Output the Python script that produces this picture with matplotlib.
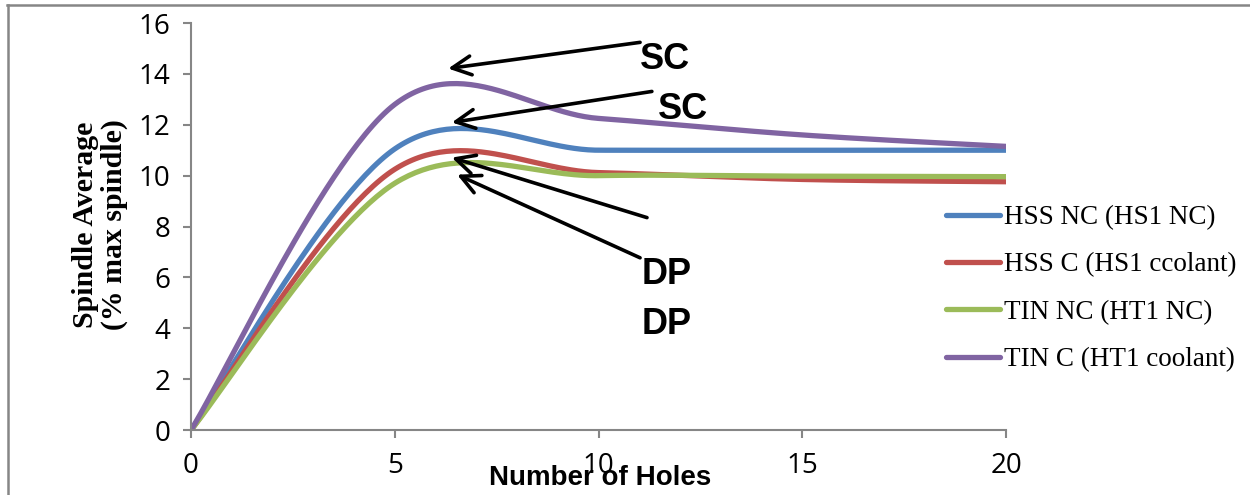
import numpy as np
import matplotlib.pyplot as plt
from matplotlib.lines import Line2D

holes = [0, 5, 10, 15, 20]
hss_nc = [0, 11.05, 11.0, 11.0, 11.0]
hss_c = [0, 10.25, 10.12, 9.85, 9.76]
tin_nc = [0, 9.7, 10.0, 9.98, 9.96]
tin_c = [0, 12.8, 12.25, 11.6, 11.15]

labels = ["HSS NC (HS1 NC)", "HSS C (HS1 ccolant)", "TIN NC (HT1 NC)", "TIN C (HT1 coolant)"]
colors = ["#4F81BD", "#C0504D", "#9BBB59", "#8064A2"]


def smooth(xs, ys, n=60):
    # Excel style smoothed line (bezier with 1/6 tangents)
    p = np.column_stack([xs, ys]).astype(float)
    ext = np.vstack([p[0], p, p[-1]])
    out = []
    t = np.linspace(0, 1, n)[:, None]
    for i in range(len(p) - 1):
        p0 = ext[i + 1]
        p3 = ext[i + 2]
        c1 = p0 + (ext[i + 2] - ext[i]) / 6
        c2 = p3 - (ext[i + 3] - ext[i + 1]) / 6
        seg = ((1 - t) ** 3) * p0 + 3 * ((1 - t) ** 2) * t * c1 + 3 * (1 - t) * t ** 2 * c2 + t ** 3 * p3
        out.append(seg)
    out = np.vstack(out)
    return out[:, 0], out[:, 1]


fig = plt.figure(figsize=(12.5, 4.95), dpi=100)
ax = fig.add_axes([0.1528, 0.1313, 0.652, 0.8222])

for ys, lab, col in zip([hss_nc, hss_c, tin_nc, tin_c], labels, colors):
    sx, sy = smooth(holes, ys)
    ax.plot(sx, sy, color=col, lw=3.8, label=lab, solid_capstyle="round")

ax.set_xlim(0, 20)
ax.set_ylim(0, 16)
ax.set_xticks([0, 5, 10, 15, 20])
ax.set_yticks(range(0, 17, 2))
for s in ["top", "right"]:
    ax.spines[s].set_visible(False)
for s in ["left", "bottom"]:
    ax.spines[s].set_color("#868686")
    ax.spines[s].set_linewidth(1.5)
ax.tick_params(colors="#868686", length=6, width=1.5, labelcolor="black",
               labelsize=20, labelfontfamily="Open Sans")
ax.tick_params(axis="y", pad=9)
ax.tick_params(axis="x", pad=10)

ax.set_xlabel("Number of Holes", family="Liberation Sans", fontweight="bold", fontsize=20)
ax.xaxis.set_label_coords(0.502, -0.118)
ax.xaxis.label.set_va("center")
ax.set_ylabel("Spindle Average\n(% max spindle)", family="Liberation Serif",
              fontweight="bold", fontsize=21.5, linespacing=1.1)
ax.yaxis.set_label_coords(-0.112, 0.504)
ax.yaxis.label.set_va("center")

ax.legend(loc="upper left", bbox_to_anchor=(0.748, 0.607), bbox_transform=fig.transFigure,
          frameon=False, prop={"family": "Liberation Serif", "size": 19.5},
          handlelength=2.0, handletextpad=0.15, labelspacing=0.82, borderaxespad=0)

# arrows and labels
arrows = [((11.02, 15.24), (6.31, 14.21)),
          ((11.31, 13.31), (6.40, 12.09)),
          ((11.19, 8.35), (6.40, 10.71)),
          ((11.02, 6.77), (6.53, 10.04))]
for tail, head in arrows:
    ax.annotate("", xy=head, xytext=tail, annotation_clip=False,
                arrowprops=dict(arrowstyle="->", color="black", lw=2.6,
                                mutation_scale=34, shrinkA=0, shrinkB=0))

notes = [("SC", 11.63, 14.57), ("SC", 12.07, 12.6), ("DP", 11.68, 6.1), ("DP", 11.68, 4.13)]
for txt, x, y in notes:
    ax.text(x, y, txt, family="Liberation Sans", fontweight="bold", fontsize=26,
            ha="center", va="center", clip_on=False)

# outer border (left and top only)
fig.add_artist(Line2D([0.0064, 0.0064], [0, 0.99], transform=fig.transFigure, color="#868686", lw=1.8))
fig.add_artist(Line2D([0.0056, 1], [0.99, 0.99], transform=fig.transFigure, color="#868686", lw=1.8))

fig.savefig("out.png", dpi=100)
